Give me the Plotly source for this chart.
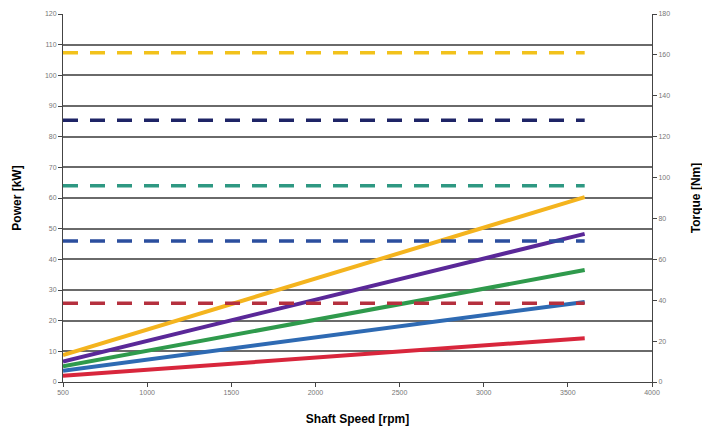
import plotly.graph_objects as go

speed = [500, 3600]
x_ticks = [500, 1000, 1500, 2000, 2500, 3000, 3500, 4000]

# Power curves [kW] at 500 and 3600 rpm
power_yellow = [8.8, 60.3]
power_purple = [6.7, 48.3]
power_green = [5.1, 36.5]
power_blue = [3.7, 26.1]
power_red = [2.0, 14.3]

# Torque levels [Nm] (constant)
torque_yellow = [161, 161]
torque_navy = [128, 128]
torque_teal = [96, 96]
torque_blue = [69, 69]
torque_red = [38.5, 38.5]

fig = go.Figure()

dash_style = "15px,12px"
torque_series = [
    (torque_yellow, "#F2C21B"),
    (torque_navy, "#1E2466"),
    (torque_teal, "#2E9882"),
    (torque_blue, "#2B4E9E"),
    (torque_red, "#B5303E"),
]
for vals, col in torque_series:
    fig.add_trace(go.Scatter(x=speed, y=vals, mode="lines", yaxis="y2",
                             line=dict(color=col, width=3.5, dash=dash_style),
                             showlegend=False, hoverinfo="skip"))

power_series = [
    (power_red, "#D8263C"),
    (power_blue, "#2E6AB3"),
    (power_green, "#2F9A4C"),
    (power_purple, "#5A2898"),
    (power_yellow, "#F4B41E"),
]
for vals, col in power_series:
    fig.add_trace(go.Scatter(x=speed, y=vals, mode="lines",
                             line=dict(color=col, width=4),
                             showlegend=False, hoverinfo="skip"))

tick_font = dict(family="Liberation Sans, Arial", size=7, color="#777777")
title_font = dict(family="Liberation Sans, Arial", size=12, color="#000000")

# page body adds an 8px margin, so the figure is slightly smaller and shifted
fig.update_layout(
    width=702, height=424,
    margin=dict(l=55, r=58, t=6, b=50),
    paper_bgcolor="white", plot_bgcolor="white",
    xaxis=dict(range=[500, 4000], tickvals=x_ticks, ticktext=[str(v) for v in x_ticks],
               showgrid=False, zeroline=False, showline=True, linecolor="#444444",
               linewidth=1, ticks="outside", ticklen=4, tickcolor="#444444",
               tickfont=tick_font, automargin=False,
               title=dict(text="<b>Shaft Speed [rpm]</b>", font=title_font, standoff=19)),
    yaxis=dict(range=[0, 120], dtick=10, showgrid=True, gridcolor="#6a6a6a", gridwidth=1.5,
               zeroline=False, showline=True, linecolor="#444444", linewidth=1,
               ticks="outside", ticklen=4, tickcolor="#444444", tickfont=tick_font,
               automargin=False,
               title=dict(text="<b>Power [kW]</b>", font=title_font, standoff=20)),
    yaxis2=dict(range=[0, 180], dtick=20, overlaying="y", side="right", showgrid=False,
                zeroline=False, showline=True, linecolor="#444444", linewidth=1,
                ticks="outside", ticklen=4, tickcolor="#444444", tickfont=tick_font,
                automargin=False,
                title=dict(text="<b>Torque [Nm]</b>", font=title_font, standoff=22)),
)

fig.write_html("out.html")
